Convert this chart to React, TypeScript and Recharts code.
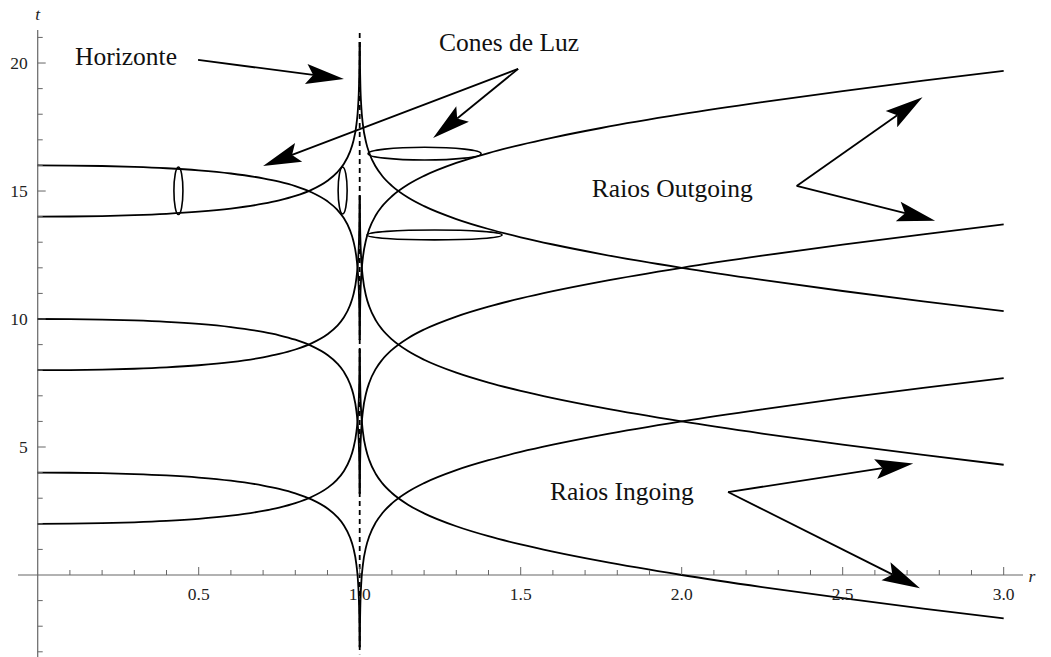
import {
  LineChart,
  Line,
  XAxis,
  YAxis,
  ReferenceLine,
  ReferenceDot,
  ReferenceArea,
} from "recharts";

// radial samples inside and outside the horizon at r = 1
const rInner = [0, 0.1, 0.2, 0.3, 0.4, 0.5, 0.6, 0.7, 0.75, 0.8, 0.85, 0.9, 0.93, 0.95, 0.97, 0.98, 0.99, 0.995, 0.998, 0.999, 0.9996];
const rOuter = [1.0004, 1.001, 1.002, 1.005, 1.01, 1.02, 1.03, 1.05, 1.07, 1.1, 1.15, 1.2, 1.3, 1.4, 1.5, 1.6, 1.75, 2.0, 2.25, 2.5, 2.75, 3.0];

// outgoing rays (t grows with r outside the horizon)
const outgoing16Inner = [16, 15.995, 15.977, 15.943, 15.889, 15.807, 15.684, 15.496, 15.364, 15.191, 14.953, 14.597, 14.271, 13.954, 13.463, 13.068, 12.385, 11.697, 10.783, 10.091, 9.176];
const outgoing10Inner = [10, 9.995, 9.977, 9.943, 9.889, 9.807, 9.684, 9.496, 9.364, 9.191, 8.953, 8.597, 8.271, 7.954, 7.463, 7.068, 6.385, 5.697, 4.783, 4.091, 3.176];
const outgoing4Inner = [4, 3.995, 3.977, 3.943, 3.889, 3.807, 3.684, 3.496, 3.364, 3.191, 2.953, 2.597, 2.271, 1.954, 1.463, 1.068, 0.385, -0.303, -1.217, -1.909, -2.824];
const outgoing16Outer = [9.176, 10.093, 10.787, 11.707, 12.405, 13.108, 13.523, 14.054, 14.411, 14.797, 15.253, 15.591, 16.096, 16.484, 16.807, 17.089, 17.462, 18.0, 18.473, 18.906, 19.31, 19.693];
const outgoing10Outer = [3.176, 4.093, 4.787, 5.707, 6.405, 7.108, 7.523, 8.054, 8.411, 8.797, 9.253, 9.591, 10.096, 10.484, 10.807, 11.089, 11.462, 12.0, 12.473, 12.906, 13.31, 13.693];
const outgoing4Outer = [-2.824, -1.907, -1.213, -0.293, 0.405, 1.108, 1.523, 2.054, 2.411, 2.797, 3.253, 3.591, 4.096, 4.484, 4.807, 5.089, 5.462, 6.0, 6.473, 6.906, 7.31, 7.693];

// ingoing rays (t falls with r outside the horizon)
const ingoing14Inner = [14, 14.005, 14.023, 14.057, 14.111, 14.193, 14.316, 14.504, 14.636, 14.809, 15.047, 15.403, 15.729, 16.046, 16.537, 16.932, 17.615, 18.303, 19.217, 19.909, 20.824];
const ingoing8Inner = [8, 8.005, 8.023, 8.057, 8.111, 8.193, 8.316, 8.504, 8.636, 8.809, 9.047, 9.403, 9.729, 10.046, 10.537, 10.932, 11.615, 12.303, 13.217, 13.909, 14.824];
const ingoing2Inner = [2, 2.005, 2.023, 2.057, 2.111, 2.193, 2.316, 2.504, 2.636, 2.809, 3.047, 3.403, 3.729, 4.046, 4.537, 4.932, 5.615, 6.303, 7.217, 7.909, 8.824];
const ingoing14Outer = [20.824, 19.907, 19.213, 18.293, 17.595, 16.892, 16.477, 15.946, 15.589, 15.203, 14.747, 14.409, 13.904, 13.516, 13.193, 12.911, 12.538, 12.0, 11.527, 11.094, 10.69, 10.307];
const ingoing8Outer = [14.824, 13.907, 13.213, 12.293, 11.595, 10.892, 10.477, 9.946, 9.589, 9.203, 8.747, 8.409, 7.904, 7.516, 7.193, 6.911, 6.538, 6.0, 5.527, 5.094, 4.69, 4.307];
const ingoing2Outer = [8.824, 7.907, 7.213, 6.293, 5.595, 4.892, 4.477, 3.946, 3.589, 3.203, 2.747, 2.409, 1.904, 1.516, 1.193, 0.911, 0.538, 0.0, -0.473, -0.906, -1.31, -1.693];

// axis ticks
const rTicks = [0.1, 0.2, 0.3, 0.4, 0.5, 0.6, 0.7, 0.8, 0.9, 1.0, 1.1, 1.2, 1.3, 1.4, 1.5, 1.6, 1.7, 1.8, 1.9, 2.0, 2.1, 2.2, 2.3, 2.4, 2.5, 2.6, 2.7, 2.8, 2.9, 3.0];
const rMajor = [0.5, 1.0, 1.5, 2.0, 2.5, 3.0];
const rLabels = ["0.5", "1.0", "1.5", "2.0", "2.5", "3.0"];
const tTicks = [-3, -2, -1, 1, 2, 3, 4, 5, 6, 7, 8, 9, 10, 11, 12, 13, 14, 15, 16, 17, 18, 19, 20, 21];
const tMajor = [5, 10, 15, 20];
const tLabels = ["5", "10", "15", "20"];

// light cones: [r1, r2, t1, t2]
const cones = [
  [0.423, 0.451, 14.08, 15.94],
  [0.933, 0.961, 14.1, 15.94],
  [1.026, 1.377, 16.21, 16.71],
  [1.023, 1.442, 13.09, 13.48],
];

// annotations: text, r, t of the left baseline point
const notes: [string, number, number][] = [
  ["Horizonte", 0.116, 19.92],
  ["Cones de Luz", 1.246, 20.47],
  ["Raios Outgoing", 1.721, 14.77],
  ["Raios Ingoing", 1.591, 2.93],
];

// arrows: tail r, tail t, tip r, tip t
const arrows = [
  [0.498, 20.12, 0.951, 19.38],
  [1.492, 19.77, 0.7, 15.98],
  [1.492, 19.77, 1.228, 17.07],
  [2.357, 15.2, 2.748, 18.66],
  [2.357, 15.2, 2.787, 13.84],
  [2.144, 3.24, 2.719, 4.36],
  [2.144, 3.24, 2.74, -0.52],
];

const rays = [
  [rInner, outgoing16Inner],
  [rInner, outgoing10Inner],
  [rInner, outgoing4Inner],
  [rInner, ingoing14Inner],
  [rInner, ingoing8Inner],
  [rInner, ingoing2Inner],
  [rOuter, outgoing16Outer],
  [rOuter, outgoing10Outer],
  [rOuter, outgoing4Outer],
  [rOuter, ingoing14Outer],
  [rOuter, ingoing8Outer],
  [rOuter, ingoing2Outer],
].map(([rs, ts]) => rs.map((r, i) => ({ r, t: ts[i] })));

const SERIF = "'Liberation Serif', 'Times New Roman', Times, serif";
const AXIS = "#666";
const textStyle = { fontFamily: SERIF };

function Arrow(props: any) {
  const { x1, y1, x2, y2 } = props;
  const dx = x2 - x1;
  const dy = y2 - y1;
  const len = Math.hypot(dx, dy);
  const ux = dx / len;
  const uy = dy / len;
  const hl = 38;
  const hw = 10;
  const notch = 7;
  const bx = x2 - ux * hl;
  const by = y2 - uy * hl;
  const mx = x2 - ux * (hl - notch);
  const my = y2 - uy * (hl - notch);
  const pts = [
    [x2, y2],
    [bx - uy * hw, by + ux * hw],
    [mx, my],
    [bx + uy * hw, by - ux * hw],
  ]
    .map((p) => p.join(","))
    .join(" ");
  return (
    <g>
      <line x1={x1} y1={y1} x2={mx} y2={my} stroke="#000" strokeWidth={1.8} />
      <polygon points={pts} fill="#000" />
    </g>
  );
}

function Ellipse(props: any) {
  const { x, y, width, height } = props;
  return (
    <ellipse
      cx={x + width / 2}
      cy={y + height / 2}
      rx={width / 2}
      ry={height / 2}
      fill="none"
      stroke="#000"
      strokeWidth={1.6}
    />
  );
}

export default function App() {
  return (
    <div
      style={{
        position: "absolute",
        left: 0,
        top: 0,
        width: 1051,
        height: 657,
        overflow: "hidden",
        background: "#fff",
      }}
    >
      <LineChart
        width={1051}
        height={657}
        margin={{ top: 30, right: 28, bottom: 0, left: 18 }}
      >
        <XAxis
          type="number"
          dataKey="r"
          domain={[-0.0612, 3.06]}
          allowDataOverflow
          hide
        />
        <YAxis
          type="number"
          dataKey="t"
          domain={[-3.203, 21.29]}
          allowDataOverflow
          hide
        />

        <ReferenceLine y={0} stroke={AXIS} strokeWidth={1.2} />
        <ReferenceLine x={0} stroke={AXIS} strokeWidth={1.2} />
        <ReferenceLine
          segment={[
            { x: 1, y: 21.17 },
            { x: 1, y: -3.1 },
          ]}
          stroke="#000"
          strokeWidth={1.8}
          strokeDasharray="5 4"
        />

        {rTicks.map((v) => (
          <ReferenceDot
            key={`rt${v}`}
            x={v}
            y={0}
            shape={(p: any) => (
              <line
                x1={p.cx}
                y1={p.cy}
                x2={p.cx}
                y2={p.cy - (rMajor.includes(v) ? 8 : 5)}
                stroke={AXIS}
                strokeWidth={1}
              />
            )}
          />
        ))}
        {tTicks.map((v) => (
          <ReferenceDot
            key={`tt${v}`}
            x={0}
            y={v}
            shape={(p: any) => (
              <line
                x1={p.cx}
                y1={p.cy}
                x2={p.cx + (tMajor.includes(v) ? 8 : 5)}
                y2={p.cy}
                stroke={AXIS}
                strokeWidth={1}
              />
            )}
          />
        ))}
        {rMajor.map((v, i) => (
          <ReferenceDot
            key={`rl${v}`}
            x={v}
            y={0}
            shape={(p: any) => (
              <text
                x={p.cx}
                y={p.cy + 25}
                textAnchor="middle"
                style={textStyle}
                fontSize={17.5}
                fill="#222"
              >
                {rLabels[i]}
              </text>
            )}
          />
        ))}
        {tMajor.map((v, i) => (
          <ReferenceDot
            key={`tl${v}`}
            x={0}
            y={v}
            shape={(p: any) => (
              <text
                x={p.cx - 10}
                y={p.cy + 6}
                textAnchor="end"
                style={textStyle}
                fontSize={17.5}
                fill="#222"
              >
                {tLabels[i]}
              </text>
            )}
          />
        ))}
        <ReferenceDot
          x={0}
          y={21.5}
          ifOverflow="visible"
          shape={(p: any) => (
            <text
              x={p.cx}
              y={20}
              textAnchor="middle"
              style={textStyle}
              fontStyle="italic"
              fontSize={17.5}
              fill="#222"
            >
              t
            </text>
          )}
        />
        <ReferenceDot
          x={3.077}
          y={-0.27}
          ifOverflow="visible"
          shape={(p: any) => (
            <text
              x={p.cx}
              y={p.cy}
              style={textStyle}
              fontStyle="italic"
              fontSize={17.5}
              fill="#222"
            >
              r
            </text>
          )}
        />

        {rays.map((pts, i) => (
          <Line
            key={`ray${i}`}
            data={pts}
            dataKey="t"
            type="monotone"
            dot={false}
            stroke="#000"
            strokeWidth={1.8}
            isAnimationActive={false}
          />
        ))}

        {cones.map(([r1, r2, t1, t2], i) => (
          <ReferenceArea
            key={`cone${i}`}
            x1={r1}
            x2={r2}
            y1={t1}
            y2={t2}
            shape={Ellipse}
          />
        ))}

        {arrows.map(([ra, ta, rb, tb], i) => (
          <ReferenceLine
            key={`arrow${i}`}
            segment={[
              { x: ra, y: ta },
              { x: rb, y: tb },
            ]}
            shape={Arrow}
          />
        ))}

        {notes.map(([label, r, t]) => (
          <ReferenceDot
            key={label}
            x={r}
            y={t}
            shape={(p: any) => (
              <text
                x={p.cx}
                y={p.cy}
                style={textStyle}
                fontSize={25.5}
                fill="#111"
              >
                {label}
              </text>
            )}
          />
        ))}
      </LineChart>
    </div>
  );
}
